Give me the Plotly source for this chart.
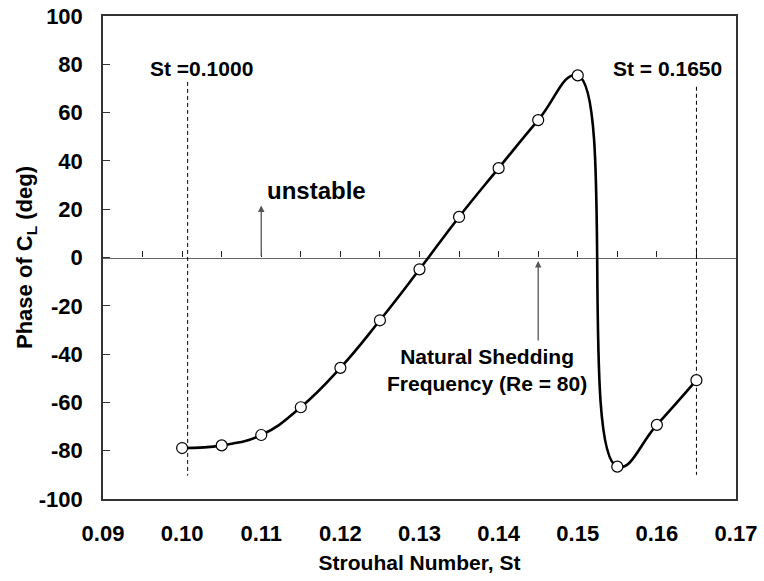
import plotly.graph_objects as go

# Data
st = [0.100, 0.105, 0.110, 0.115, 0.120, 0.125, 0.130, 0.135, 0.140, 0.145, 0.150, 0.155, 0.160, 0.165]
phase = [-78.9, -77.8, -73.5, -62.0, -45.7, -26.0, -4.9, 16.8, 37.0, 56.9, 75.4, -86.6, -69.3, -50.8]

guide_st = [0.1007, 0.165]
guide_top = [72.7, 70.7]
guide_bottom = [-90.3, -90.0]
guide_labels = ["St =0.1000", "St = 0.1650"]
guide_label_x = [0.1024, 0.16135]
guide_label_y = [78.4, 78.4]

x_ticks = [0.09, 0.10, 0.11, 0.12, 0.13, 0.14, 0.15, 0.16, 0.17]
x_ticklabels = ["0.09", "0.10", "0.11", "0.12", "0.13", "0.14", "0.15", "0.16", "0.17"]
y_ticks = [-100, -80, -60, -40, -20, 0, 20, 40, 60, 80, 100]
y_ticklabels = ["-100", "-80", "-60", "-40", "-20", "0", "20", "40", "60", "80", "100"]

FONT = "Liberation Sans, Arial, Helvetica, sans-serif"


def bold(size):
    return dict(family=FONT, size=size, color="black", weight="bold")


fig = go.Figure()

# Invisible trace for the zero-line axis
fig.add_trace(go.Scatter(x=st, y=phase, xaxis="x2", mode="none",
                         hoverinfo="skip", showlegend=False))

# Dashed guide lines
for gx, gt, gb in zip(guide_st, guide_top, guide_bottom):
    fig.add_trace(go.Scatter(x=[gx, gx], y=[gt, gb], mode="lines",
                             line=dict(color="black", width=1, dash="4px,3px"),
                             hoverinfo="skip", showlegend=False))

# Smooth curve
fig.add_trace(go.Scatter(x=st, y=phase, mode="lines",
                         line=dict(color="black", width=2.6, shape="spline", smoothing=1.3),
                         showlegend=False))
# Markers
fig.add_trace(go.Scatter(x=st, y=phase, mode="markers",
                         marker=dict(symbol="circle", size=11, color="white",
                                     line=dict(color="black", width=1.2)),
                         showlegend=False))

annotations = []
for txt, ax_, ay_ in zip(guide_labels, guide_label_x, guide_label_y):
    annotations.append(dict(x=ax_, y=ay_, xref="x", yref="y", text=txt, showarrow=False,
                            font=bold(21)))
annotations.append(dict(x=0.1170, y=27.7, xref="x", yref="y", text="unstable",
                        showarrow=False, font=bold(24)))
annotations.append(dict(x=0.13856, y=-46.6, xref="x", yref="y",
                        text="Natural Shedding<br>Frequency (Re = 80)",
                        showarrow=False, font=bold(21)))
# Arrows
annotations.append(dict(x=0.110, y=21.5, ax=0.110, ay=0, xref="x", yref="y",
                        axref="x", ayref="y", text="", showarrow=True,
                        arrowhead=2, arrowsize=1, arrowwidth=1.3, arrowcolor="#555"))
annotations.append(dict(x=0.145, y=-1.5, ax=0.145, ay=-35, xref="x", yref="y",
                        axref="x", ayref="y", text="", showarrow=True,
                        arrowhead=2, arrowsize=1, arrowwidth=1.3, arrowcolor="#555"))

fig.update_layout(
    width=764, height=581,
    margin=dict(l=103, r=28, t=16, b=82),
    paper_bgcolor="white", plot_bgcolor="white",
    font=dict(family=FONT, color="black"),
    annotations=annotations,
    xaxis=dict(range=[0.09, 0.17], tickvals=x_ticks, ticktext=x_ticklabels,
               ticks="", showgrid=False, zeroline=False, automargin=False,
               showline=True, linecolor="#333", linewidth=1.5, mirror=True,
               tickfont=bold(22), ticklabelstandoff=14,
               title=dict(text="Strouhal Number, St", font=bold(21), standoff=10)),
    xaxis2=dict(range=[0.09, 0.17], overlaying="x", anchor="free", position=0.5,
                side="bottom", tick0=0.09, dtick=0.005, ticks="inside", ticklen=6,
                tickwidth=1.3, tickcolor="#222", showticklabels=False, showgrid=False,
                zeroline=False, showline=True, linecolor="#666", linewidth=1.3,
                layer="below traces", automargin=False),
    yaxis=dict(range=[-100, 100], tickvals=y_ticks, ticktext=y_ticklabels,
               ticks="inside", ticklen=7,
               tickwidth=1.2, tickcolor="#333", showgrid=False, zeroline=False,
               showline=True, linecolor="#333", linewidth=1.5, mirror=True,
               automargin=False, tickfont=bold(22), ticklabelstandoff=14,
               title=dict(text="Phase of C<sub>L</sub> (deg)", font=bold(22), standoff=0)),
)

fig.write_html("out.html")
